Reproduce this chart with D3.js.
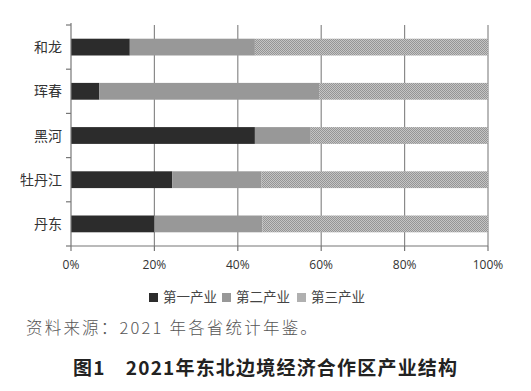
<!DOCTYPE html>
<html>
<head>
<meta charset="utf-8">
<script src="https://cdn.jsdelivr.net/npm/d3@7/dist/d3.min.js"></script>
<style>
  body { margin: 0; background: #fff; }
  svg { display: block; }
</style>
</head>
<body>
<svg id="chart" width="531" height="391"></svg>
<script>
let cities = ["和龙", "珲春", "黑河", "牡丹江", "丹东"]
let primary = [14.1, 6.8, 44.1, 24.3, 20.0]
let secondary = [30.0, 52.7, 13.4, 21.4, 25.9]
let tertiary = [55.9, 40.5, 42.5, 54.3, 54.1]
let industries = ["第一产业", "第二产业", "第三产业"]
let xTicks = [0, 20, 40, 60, 80, 100]

let svg = d3.select("#chart")
let sans = "'Noto Sans CJK SC', 'Noto Sans', sans-serif"

let plotLeft = 71, plotRight = 488, plotTop = 25, plotBottom = 246

// checker pattern for the third sector
let defs = svg.append("defs")
let pat = defs.append("pattern")
    .attr("id", "checker")
    .attr("width", 2).attr("height", 2)
    .attr("patternUnits", "userSpaceOnUse")
pat.append("rect").attr("width", 2).attr("height", 2).attr("fill", "#c4c4c4")
pat.append("rect").attr("width", 1).attr("height", 1).attr("fill", "#959595")
pat.append("rect").attr("x", 1).attr("y", 1).attr("width", 1).attr("height", 1).attr("fill", "#959595")

let colors = ["#2c2c2c", "#989898", "url(#checker)"]
let legendColors = ["#2c2c2c", "#989898", "#b0b0b0"]

let x = d3.scaleLinear().domain([0, 100]).range([plotLeft, plotRight])
let y = d3.scaleBand().domain(cities).range([plotTop, plotBottom]).paddingInner(0.62).paddingOuter(0.31)
let yBand = d3.scaleBand().domain(cities).range([plotTop, plotBottom])

// gridlines
svg.append("g")
    .selectAll("line")
    .data(xTicks.slice(1))
    .enter()
    .append("line")
    .attr("x1", d => x(d)).attr("x2", d => x(d))
    .attr("y1", plotTop).attr("y2", plotBottom)
    .attr("stroke", "#8a8a8a")
    .attr("stroke-width", 1.2)

let rows = cities.map((c, i) => ({ city: c, values: [primary[i], secondary[i], tertiary[i]] }))

rows.forEach(row => {
    let start = 0
    row.values.forEach((v, k) => {
        svg.append("rect")
            .attr("x", x(start))
            .attr("y", y(row.city))
            .attr("width", x(start + v) - x(start))
            .attr("height", y.bandwidth())
            .attr("fill", colors[k])
        start += v
    })
})

// left axis
svg.append("line")
    .attr("x1", plotLeft).attr("x2", plotLeft).attr("y1", plotTop - 2).attr("y2", plotBottom)
    .attr("stroke", "#777").attr("stroke-width", 1.2)
let bounds = cities.map(c => yBand(c)).concat([plotBottom])
svg.append("g")
    .selectAll("line")
    .data(bounds)
    .enter()
    .append("line")
    .attr("x1", plotLeft - 5).attr("x2", plotLeft)
    .attr("y1", d => d).attr("y2", d => d)
    .attr("stroke", "#777").attr("stroke-width", 1.2)

svg.append("g")
    .selectAll("text")
    .data(cities)
    .enter()
    .append("text")
    .attr("x", plotLeft - 9)
    .attr("y", d => y(d) + y.bandwidth() / 2)
    .attr("dy", "0.36em")
    .attr("text-anchor", "end")
    .attr("font-family", sans)
    .attr("font-size", 14)
    .attr("fill", "#333")
    .text(d => d)

// bottom axis
svg.append("line")
    .attr("x1", plotLeft).attr("x2", plotRight).attr("y1", plotBottom).attr("y2", plotBottom)
    .attr("stroke", "#777").attr("stroke-width", 1.2)
svg.append("g")
    .selectAll("line")
    .data(xTicks)
    .enter()
    .append("line")
    .attr("x1", d => x(d)).attr("x2", d => x(d))
    .attr("y1", plotBottom).attr("y2", plotBottom + 5)
    .attr("stroke", "#777").attr("stroke-width", 1.2)
svg.append("g")
    .selectAll("text")
    .data(xTicks)
    .enter()
    .append("text")
    .attr("x", d => x(d))
    .attr("y", 268.5)
    .attr("text-anchor", "middle")
    .attr("font-family", "'Open Sans', sans-serif")
    .attr("font-size", 12)
    .attr("fill", "#333")
    .text(d => d + "%")

// legend
let legendX = [149, 222, 297]
let legend = svg.append("g")
    .selectAll("g")
    .data(industries)
    .enter()
    .append("g")
    .attr("transform", (d, i) => `translate(${legendX[i]}, 297.5)`)
legend.append("rect")
    .attr("x", 0).attr("y", -4.5)
    .attr("width", 9).attr("height", 9)
    .attr("fill", (d, i) => legendColors[i])
legend.append("text")
    .attr("x", 14)
    .attr("dy", "0.36em")
    .attr("font-family", sans)
    .attr("font-size", 13.5)
    .attr("fill", "#444")
    .text(d => d)

// source note
svg.append("text")
    .attr("x", 26)
    .attr("y", 334)
    .attr("font-family", sans)
    .attr("font-weight", 300)
    .attr("font-size", 16.5)
    .attr("letter-spacing", 2.2)
    .attr("fill", "#555")
    .text("资料来源：2021 年各省统计年鉴。")

// caption
svg.append("text")
    .attr("x", 73)
    .attr("y", 375)
    .attr("font-family", sans)
    .attr("font-weight", 700)
    .attr("font-size", 19)
    .attr("letter-spacing", 1.2)
    .attr("fill", "#222")
    .attr("xml:space", "preserve")
    .text("图1　2021年东北边境经济合作区产业结构")
</script>
</body>
</html>
